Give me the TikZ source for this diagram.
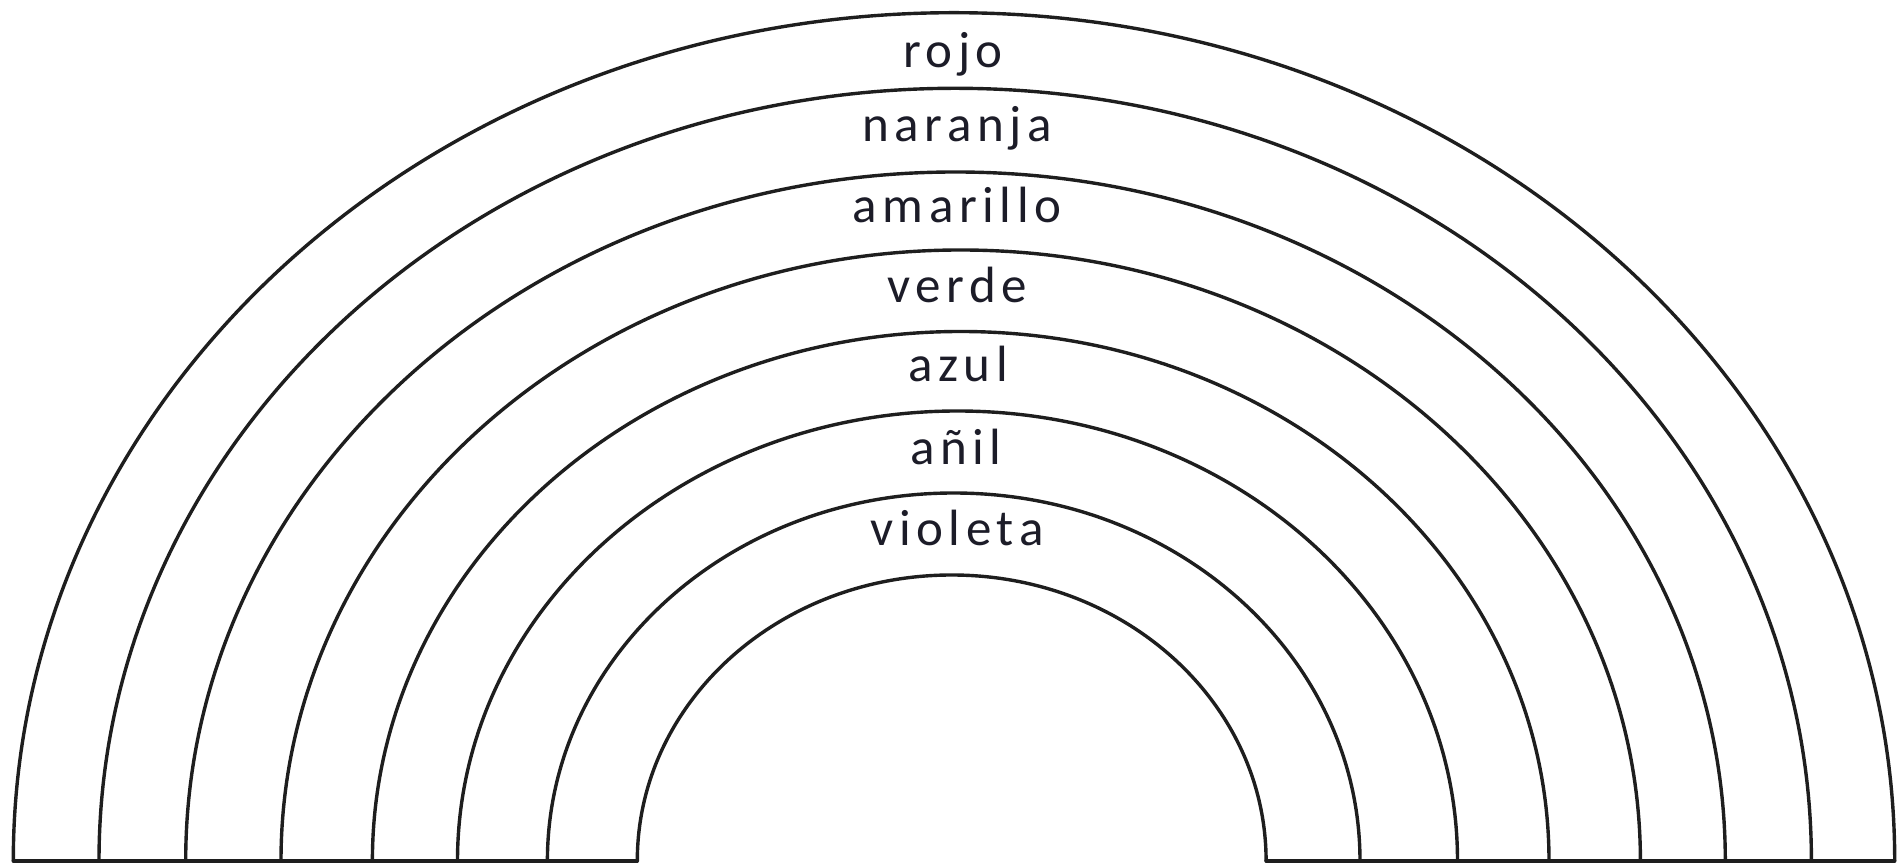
\documentclass[tikz,border=0pt]{standalone}
\usepackage{fontspec}
\setmainfont{Carlito}[LetterSpace=11]
\definecolor{linecol}{RGB}{30,30,30}
\definecolor{txtcol}{RGB}{28,28,40}
\begin{document}
\begin{tikzpicture}[x=1pt,y=1pt,
  bandline/.style={line width=3.4pt, draw=linecol, line cap=round},
  bandlabel/.style={anchor=base, inner sep=0pt, text=txtcol, font=\fontsize{51}{60}\selectfont}]
\useasboundingbox (0,0) rectangle (1903,864);
% arcs: center x, x radius, y radius (baseline at y=3)
\foreach \cx/\a/\b in {954/940.7/848.3, 955.2/856.2/772.7, 955.5/769.8/689,
  960.7/679.7/611, 960.7/588.3/529.5, 957.5/500/450, 953.7/406.3/368, 951.7/314.4/286}{
  \draw[bandline] (\cx+\a,3) arc[start angle=0, end angle=180, x radius=\a, y radius=\b];
}
\coordinate (bl1) at (13.3,3);
\coordinate (bl2) at (637.3,3);
\coordinate (br1) at (1266,3);
\coordinate (br2) at (1894.7,3);
\draw[bandline] (bl1) -- (bl2);
\draw[bandline] (br1) -- (br2);
\node[bandlabel] (rojo) at (953,796) {rojo};
\node[bandlabel] (naranja) at (957,722.5) {naranja};
\node[bandlabel] (amarillo) at (957,641) {amarillo};
\node[bandlabel] (verde) at (957,561) {verde};
\node[bandlabel] (azul) at (958,482.5) {azul};
\node[bandlabel] (anil) at (956,399) {añil};
\node[bandlabel] (violeta) at (957,318) {violeta};
\end{tikzpicture}
\end{document}
